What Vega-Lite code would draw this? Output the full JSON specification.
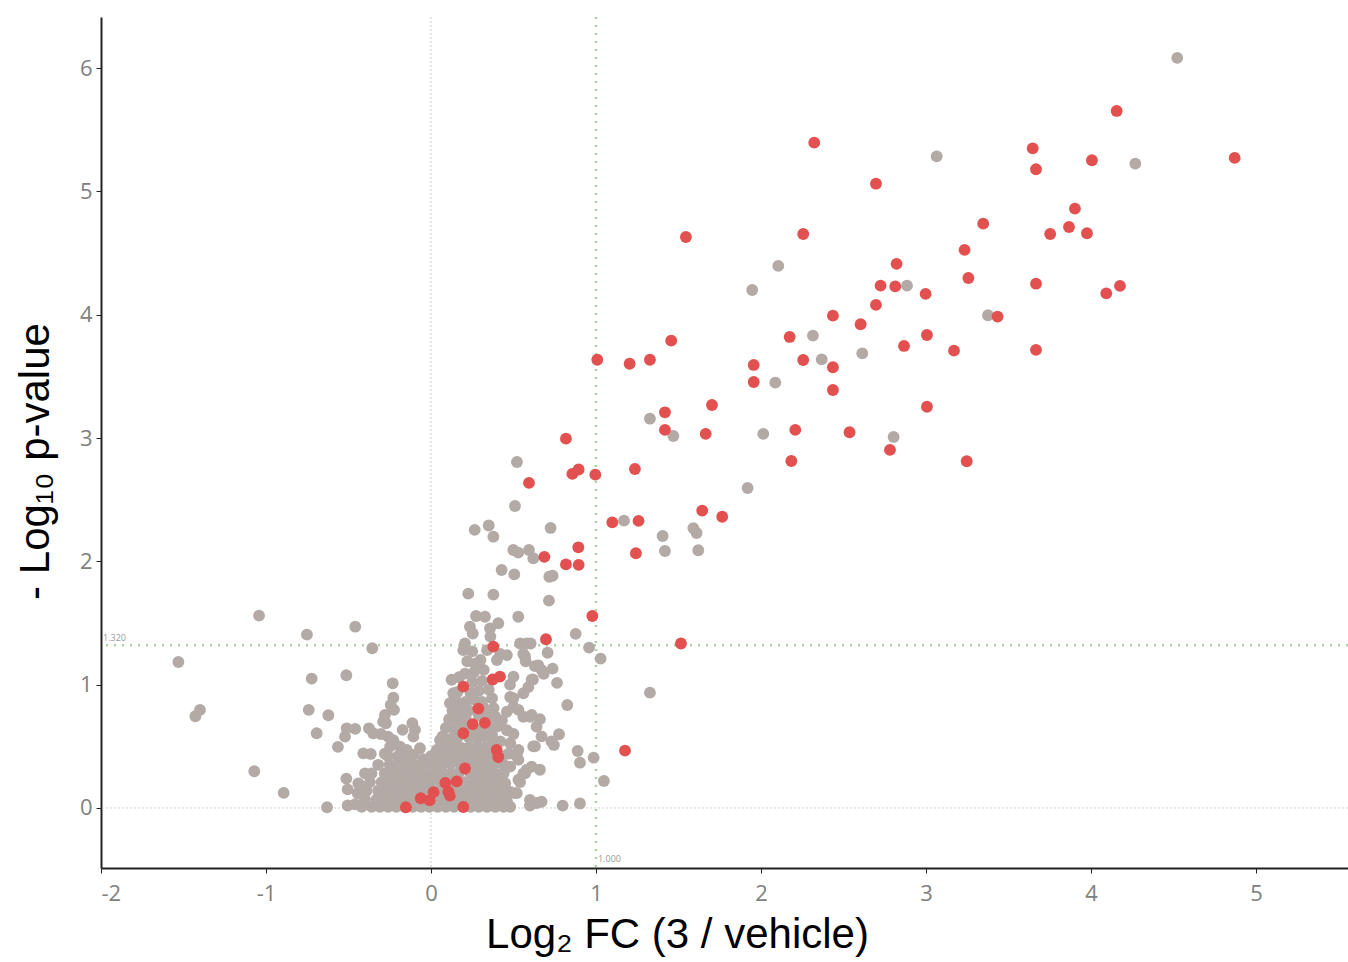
{
  "$schema": "https://vega.github.io/schema/vega-lite/v6.json",
  "width": 1247,
  "height": 851,
  "autosize": {"type": "none"},
  "padding": {"left": 101, "top": 17, "right": 0, "bottom": 94},
  "background": "white",
  "config": {"view": {"stroke": null}},
  "datasets": {
    "pts": [
      {"x":-0.42,"y":0.01,"g":"n"},{"x":-0.36,"y":0.01,"g":"n"},{"x":-0.31,"y":0.01,"g":"n"},{"x":-0.26,"y":0.01,"g":"n"},{"x":-0.21,"y":0.01,"g":"n"},{"x":-0.16,"y":0.01,"g":"n"},{"x":-0.11,"y":0.01,"g":"n"},{"x":-0.06,"y":0.01,"g":"n"},{"x":-0.01,"y":0.01,"g":"n"},{"x":0.04,"y":0.01,"g":"n"},{"x":0.09,"y":0.01,"g":"n"},{"x":0.14,"y":0.01,"g":"n"},{"x":0.19,"y":0.02,"g":"n"},{"x":0.24,"y":0.01,"g":"n"},{"x":0.29,"y":0.01,"g":"n"},{"x":0.34,"y":0.01,"g":"n"},{"x":0.39,"y":0.01,"g":"n"},{"x":0.44,"y":0.01,"g":"n"},{"x":0.48,"y":0.01,"g":"n"},
      {"x":-0.4,"y":0.07,"g":"n"},{"x":-0.33,"y":0.07,"g":"n"},{"x":-0.28,"y":0.07,"g":"n"},{"x":-0.23,"y":0.07,"g":"n"},{"x":-0.18,"y":0.07,"g":"n"},{"x":-0.13,"y":0.07,"g":"n"},{"x":-0.08,"y":0.07,"g":"n"},{"x":-0.03,"y":0.08,"g":"n"},{"x":0.02,"y":0.07,"g":"n"},{"x":0.07,"y":0.07,"g":"n"},{"x":0.12,"y":0.06,"g":"n"},{"x":0.17,"y":0.07,"g":"n"},{"x":0.22,"y":0.07,"g":"n"},{"x":0.27,"y":0.07,"g":"n"},{"x":0.32,"y":0.07,"g":"n"},{"x":0.37,"y":0.07,"g":"n"},{"x":0.42,"y":0.07,"g":"n"},{"x":0.46,"y":0.06,"g":"n"},
      {"x":-0.39,"y":0.14,"g":"n"},{"x":-0.32,"y":0.14,"g":"n"},{"x":-0.27,"y":0.14,"g":"n"},{"x":-0.22,"y":0.14,"g":"n"},{"x":-0.17,"y":0.14,"g":"n"},{"x":-0.12,"y":0.14,"g":"n"},{"x":-0.07,"y":0.14,"g":"n"},{"x":-0.02,"y":0.15,"g":"n"},{"x":0.05,"y":0.14,"g":"n"},{"x":0.09,"y":0.15,"g":"n"},{"x":0.13,"y":0.16,"g":"n"},{"x":0.18,"y":0.14,"g":"n"},{"x":0.23,"y":0.14,"g":"n"},{"x":0.28,"y":0.14,"g":"n"},{"x":0.33,"y":0.14,"g":"n"},{"x":0.38,"y":0.14,"g":"n"},{"x":0.43,"y":0.14,"g":"n"},{"x":0.48,"y":0.13,"g":"n"},
      {"x":-0.37,"y":0.21,"g":"n"},{"x":-0.3,"y":0.21,"g":"n"},{"x":-0.25,"y":0.21,"g":"n"},{"x":-0.2,"y":0.21,"g":"n"},{"x":-0.15,"y":0.21,"g":"n"},{"x":-0.1,"y":0.21,"g":"n"},{"x":-0.05,"y":0.21,"g":"n"},{"x":0.0,"y":0.21,"g":"n"},{"x":0.05,"y":0.22,"g":"n"},{"x":0.11,"y":0.24,"g":"n"},{"x":0.2,"y":0.21,"g":"n"},{"x":0.25,"y":0.21,"g":"n"},{"x":0.3,"y":0.21,"g":"n"},{"x":0.35,"y":0.21,"g":"n"},{"x":0.4,"y":0.21,"g":"n"},{"x":0.45,"y":0.2,"g":"n"},
      {"x":-0.36,"y":0.28,"g":"n"},{"x":-0.28,"y":0.28,"g":"n"},{"x":-0.23,"y":0.28,"g":"n"},{"x":-0.18,"y":0.28,"g":"n"},{"x":-0.13,"y":0.28,"g":"n"},{"x":-0.08,"y":0.28,"g":"n"},{"x":-0.03,"y":0.28,"g":"n"},{"x":0.02,"y":0.28,"g":"n"},{"x":0.07,"y":0.28,"g":"n"},{"x":0.12,"y":0.28,"g":"n"},{"x":0.17,"y":0.29,"g":"n"},{"x":0.24,"y":0.28,"g":"n"},{"x":0.29,"y":0.28,"g":"n"},{"x":0.34,"y":0.28,"g":"n"},{"x":0.39,"y":0.28,"g":"n"},{"x":0.44,"y":0.28,"g":"n"},
      {"x":-0.32,"y":0.35,"g":"n"},{"x":-0.25,"y":0.35,"g":"n"},{"x":-0.2,"y":0.35,"g":"n"},{"x":-0.15,"y":0.35,"g":"n"},{"x":-0.1,"y":0.35,"g":"n"},{"x":-0.04,"y":0.34,"g":"n"},{"x":0.02,"y":0.35,"g":"n"},{"x":0.07,"y":0.35,"g":"n"},{"x":0.12,"y":0.36,"g":"n"},{"x":0.17,"y":0.37,"g":"n"},{"x":0.23,"y":0.35,"g":"n"},{"x":0.28,"y":0.35,"g":"n"},{"x":0.33,"y":0.35,"g":"n"},{"x":0.38,"y":0.35,"g":"n"},{"x":0.44,"y":0.35,"g":"n"},
      {"x":-0.26,"y":0.42,"g":"n"},{"x":-0.2,"y":0.42,"g":"n"},{"x":-0.15,"y":0.41,"g":"n"},{"x":0.0,"y":0.42,"g":"n"},{"x":0.05,"y":0.42,"g":"n"},{"x":0.1,"y":0.42,"g":"n"},{"x":0.15,"y":0.43,"g":"n"},{"x":0.2,"y":0.42,"g":"n"},{"x":0.25,"y":0.42,"g":"n"},{"x":0.3,"y":0.42,"g":"n"},{"x":0.35,"y":0.42,"g":"n"},{"x":0.43,"y":0.42,"g":"n"},
      {"x":0.08,"y":0.49,"g":"n"},{"x":0.13,"y":0.5,"g":"n"},{"x":0.18,"y":0.49,"g":"n"},{"x":0.23,"y":0.49,"g":"n"},{"x":0.28,"y":0.5,"g":"n"},{"x":0.33,"y":0.49,"g":"n"},{"x":0.37,"y":0.52,"g":"n"},{"x":0.42,"y":0.54,"g":"n"},
      {"x":0.07,"y":0.58,"g":"n"},{"x":0.12,"y":0.56,"g":"n"},{"x":0.16,"y":0.57,"g":"n"},{"x":0.23,"y":0.57,"g":"n"},{"x":0.28,"y":0.56,"g":"n"},{"x":0.32,"y":0.58,"g":"n"},{"x":0.37,"y":0.59,"g":"n"},
      {"x":0.09,"y":0.65,"g":"n"},{"x":0.14,"y":0.64,"g":"n"},{"x":0.19,"y":0.66,"g":"n"},{"x":0.24,"y":0.63,"g":"n"},{"x":0.29,"y":0.63,"g":"n"},{"x":0.35,"y":0.65,"g":"n"},{"x":0.4,"y":0.66,"g":"n"},
      {"x":0.11,"y":0.72,"g":"n"},{"x":0.16,"y":0.72,"g":"n"},{"x":0.21,"y":0.73,"g":"n"},{"x":0.29,"y":0.75,"g":"n"},{"x":0.35,"y":0.73,"g":"n"},{"x":0.39,"y":0.74,"g":"n"},
      {"x":0.13,"y":0.79,"g":"n"},{"x":0.18,"y":0.8,"g":"n"},{"x":0.23,"y":0.79,"g":"n"},{"x":0.33,"y":0.8,"g":"n"},{"x":0.38,"y":0.81,"g":"n"},
      {"x":0.15,"y":0.87,"g":"n"},{"x":0.21,"y":0.86,"g":"n"},{"x":0.26,"y":0.88,"g":"n"},{"x":0.31,"y":0.86,"g":"n"},{"x":0.37,"y":0.89,"g":"n"},
      {"x":0.16,"y":0.94,"g":"n"},{"x":0.24,"y":0.93,"g":"n"},{"x":0.29,"y":0.95,"g":"n"},{"x":0.35,"y":0.96,"g":"n"},
      {"x":0.25,"y":1.02,"g":"n"},{"x":0.31,"y":1.03,"g":"n"},{"x":0.17,"y":1.06,"g":"n"},{"x":0.26,"y":1.1,"g":"n"},{"x":0.32,"y":1.12,"g":"n"},{"x":0.22,"y":1.19,"g":"n"},{"x":0.3,"y":1.2,"g":"n"},{"x":0.25,"y":1.27,"g":"n"},
      {"x":4.523,"y":6.083,"g":"n"},{"x":4.269,"y":5.226,"g":"n"},{"x":3.065,"y":5.285,"g":"n"},{"x":3.376,"y":3.996,"g":"n"},{"x":2.885,"y":4.236,"g":"n"},{"x":2.105,"y":4.396,"g":"n"},{"x":1.947,"y":4.201,"g":"n"},{"x":2.315,"y":3.831,"g":"n"},{"x":2.614,"y":3.687,"g":"n"},{"x":2.368,"y":3.638,"g":"n"},{"x":2.087,"y":3.45,"g":"n"},{"x":1.327,"y":3.157,"g":"n"},{"x":1.469,"y":3.017,"g":"n"},{"x":2.014,"y":3.034,"g":"n"},{"x":2.804,"y":3.009,"g":"n"},{"x":1.919,"y":2.595,"g":"n"},{"x":1.17,"y":2.33,"g":"n"},{"x":1.404,"y":2.206,"g":"n"},{"x":1.418,"y":2.084,"g":"n"},{"x":1.59,"y":2.27,"g":"n"},{"x":1.61,"y":2.23,"g":"n"},{"x":1.62,"y":2.09,"g":"n"},
      {"x":0.521,"y":2.806,"g":"n"},{"x":0.509,"y":2.449,"g":"n"},{"x":0.265,"y":2.255,"g":"n"},{"x":0.35,"y":2.291,"g":"n"},{"x":0.378,"y":2.2,"g":"n"},{"x":0.725,"y":2.271,"g":"n"},{"x":0.499,"y":2.092,"g":"n"},{"x":0.529,"y":2.071,"g":"n"},{"x":0.594,"y":2.092,"g":"n"},{"x":0.62,"y":2.025,"g":"n"},{"x":0.428,"y":1.93,"g":"n"},{"x":0.505,"y":1.894,"g":"n"},{"x":0.717,"y":1.875,"g":"n"},{"x":0.737,"y":1.883,"g":"n"},{"x":0.715,"y":1.681,"g":"n"},{"x":0.226,"y":1.738,"g":"n"},{"x":0.378,"y":1.73,"g":"n"},{"x":0.273,"y":1.557,"g":"n"},{"x":0.327,"y":1.551,"g":"n"},{"x":0.529,"y":1.551,"g":"n"},{"x":0.236,"y":1.47,"g":"n"},{"x":0.253,"y":1.415,"g":"n"},{"x":0.358,"y":1.457,"g":"n"},{"x":0.408,"y":1.498,"g":"n"},{"x":0.877,"y":1.412,"g":"n"},{"x":0.958,"y":1.3,"g":"n"},{"x":1.028,"y":1.211,"g":"n"},{"x":1.327,"y":0.935,"g":"n"},{"x":0.54,"y":1.334,"g":"n"},{"x":0.604,"y":1.334,"g":"n"},{"x":0.56,"y":1.249,"g":"n"},{"x":0.574,"y":1.19,"g":"n"},{"x":0.65,"y":1.157,"g":"n"},{"x":0.707,"y":1.259,"g":"n"},{"x":0.683,"y":1.087,"g":"n"},{"x":0.737,"y":1.13,"g":"n"},{"x":0.764,"y":1.014,"g":"n"},{"x":0.618,"y":1.042,"g":"n"},{"x":0.826,"y":0.835,"g":"n"},{"x":0.776,"y":0.598,"g":"n"},{"x":0.745,"y":0.511,"g":"n"},{"x":0.889,"y":0.462,"g":"n"},{"x":0.903,"y":0.367,"g":"n"},{"x":0.986,"y":0.408,"g":"n"},{"x":1.048,"y":0.219,"g":"n"},{"x":0.903,"y":0.036,"g":"n"},{"x":0.798,"y":0.019,"g":"n"},{"x":0.63,"y":1.15,"g":"n"},{"x":0.67,"y":1.12,"g":"n"},{"x":0.5,"y":1.065,"g":"n"},{"x":0.479,"y":1.0,"g":"n"},{"x":0.499,"y":0.89,"g":"n"},{"x":0.56,"y":0.93,"g":"n"},{"x":0.61,"y":1.04,"g":"n"},{"x":0.59,"y":0.98,"g":"n"},{"x":0.53,"y":0.795,"g":"n"},{"x":0.56,"y":0.74,"g":"n"},{"x":0.61,"y":0.755,"g":"n"},{"x":0.66,"y":0.72,"g":"n"},{"x":0.64,"y":0.66,"g":"n"},{"x":0.67,"y":0.58,"g":"n"},{"x":0.5,"y":0.6,"g":"n"},{"x":0.48,"y":0.525,"g":"n"},{"x":0.53,"y":0.47,"g":"n"},{"x":0.52,"y":0.42,"g":"n"},{"x":0.63,"y":0.5,"g":"n"},{"x":0.58,"y":0.31,"g":"n"},{"x":0.61,"y":0.335,"g":"n"},{"x":0.66,"y":0.31,"g":"n"},{"x":0.53,"y":0.23,"g":"n"},{"x":0.56,"y":0.28,"g":"n"},{"x":0.52,"y":0.12,"g":"n"},{"x":0.6,"y":0.02,"g":"n"},{"x":0.64,"y":0.04,"g":"n"},{"x":0.67,"y":0.05,"g":"n"},{"x":0.73,"y":0.54,"g":"n"},{"x":0.43,"y":0.71,"g":"n"},{"x":0.46,"y":0.63,"g":"n"},{"x":0.206,"y":1.09,"g":"n"},{"x":0.125,"y":1.04,"g":"n"},{"x":0.135,"y":0.93,"g":"n"},{"x":0.115,"y":0.85,"g":"n"},{"x":0.196,"y":1.28,"g":"n"},{"x":0.206,"y":1.335,"g":"n"},{"x":0.267,"y":1.17,"g":"n"},{"x":0.34,"y":1.28,"g":"n"},{"x":0.36,"y":1.39,"g":"n"},{"x":0.42,"y":1.25,"g":"n"},{"x":0.46,"y":1.24,"g":"n"},{"x":0.4,"y":1.2,"g":"n"},{"x":0.58,"y":1.334,"g":"n"},{"x":0.57,"y":1.23,"g":"n"},{"x":0.48,"y":0.9,"g":"n"},{"x":0.5,"y":0.82,"g":"n"},{"x":0.6,"y":0.74,"g":"n"},{"x":0.62,"y":0.5,"g":"n"},{"x":0.53,"y":0.39,"g":"n"},{"x":0.48,"y":0.335,"g":"n"},{"x":0.57,"y":0.28,"g":"n"},{"x":0.54,"y":0.21,"g":"n"},{"x":0.6,"y":0.065,"g":"n"},{"x":0.51,"y":0.12,"g":"n"},{"x":0.47,"y":0.44,"g":"n"},{"x":0.46,"y":0.78,"g":"n"},
      {"x":-1.042,"y":1.56,"g":"n"},{"x":-0.459,"y":1.47,"g":"n"},{"x":-0.752,"y":1.406,"g":"n"},{"x":-0.356,"y":1.295,"g":"n"},{"x":-1.531,"y":1.184,"g":"n"},{"x":-0.723,"y":1.049,"g":"n"},{"x":-0.513,"y":1.076,"g":"n"},{"x":-0.232,"y":1.011,"g":"n"},{"x":-1.428,"y":0.744,"g":"n"},{"x":-1.4,"y":0.795,"g":"n"},{"x":-0.741,"y":0.795,"g":"n"},{"x":-0.622,"y":0.752,"g":"n"},{"x":-0.693,"y":0.606,"g":"n"},{"x":-0.564,"y":0.495,"g":"n"},{"x":-1.071,"y":0.298,"g":"n"},{"x":-0.893,"y":0.122,"g":"n"},{"x":-0.63,"y":0.006,"g":"n"},{"x":-0.513,"y":0.238,"g":"n"},{"x":-0.505,"y":0.151,"g":"n"},{"x":-0.43,"y":0.173,"g":"n"},{"x":-0.444,"y":0.119,"g":"n"},{"x":-0.505,"y":0.02,"g":"n"},{"x":-0.46,"y":0.03,"g":"n"},{"x":-0.521,"y":0.578,"g":"n"},{"x":-0.511,"y":0.646,"g":"n"},{"x":-0.459,"y":0.641,"g":"n"},{"x":-0.41,"y":0.443,"g":"n"},{"x":-0.365,"y":0.438,"g":"n"},{"x":-0.376,"y":0.646,"g":"n"},{"x":-0.35,"y":0.606,"g":"n"},{"x":-0.303,"y":0.6,"g":"n"},{"x":-0.279,"y":0.754,"g":"n"},{"x":-0.273,"y":0.687,"g":"n"},{"x":-0.244,"y":0.835,"g":"n"},{"x":-0.228,"y":0.894,"g":"n"},{"x":-0.224,"y":0.795,"g":"n"},{"x":-0.172,"y":0.633,"g":"n"},{"x":-0.113,"y":0.687,"g":"n"},{"x":-0.097,"y":0.633,"g":"n"},{"x":-0.107,"y":0.578,"g":"n"},{"x":-0.047,"y":0.395,"g":"n"},{"x":-0.29,"y":0.7,"g":"n"},{"x":-0.26,"y":0.578,"g":"n"},{"x":-0.228,"y":0.55,"g":"n"},{"x":-0.248,"y":0.497,"g":"n"},{"x":-0.28,"y":0.44,"g":"n"},{"x":-0.188,"y":0.497,"g":"n"},{"x":-0.147,"y":0.47,"g":"n"},{"x":-0.107,"y":0.43,"g":"n"},{"x":-0.067,"y":0.484,"g":"n"},{"x":0.035,"y":0.47,"g":"n"},{"x":0.055,"y":0.55,"g":"n"},{"x":-0.44,"y":0.2,"g":"n"},{"x":-0.42,"y":0.146,"g":"n"},{"x":-0.4,"y":0.28,"g":"n"},
      {"x":4.156,"y":5.653,"g":"s"},{"x":3.647,"y":5.35,"g":"s"},{"x":3.667,"y":5.18,"g":"s"},{"x":4.006,"y":5.253,"g":"s"},{"x":4.871,"y":5.272,"g":"s"},{"x":3.903,"y":4.861,"g":"s"},{"x":3.347,"y":4.739,"g":"s"},{"x":3.753,"y":4.655,"g":"s"},{"x":3.867,"y":4.712,"g":"s"},{"x":3.976,"y":4.661,"g":"s"},{"x":3.234,"y":4.526,"g":"s"},{"x":3.257,"y":4.298,"g":"s"},{"x":3.667,"y":4.252,"g":"s"},{"x":4.093,"y":4.174,"g":"s"},{"x":4.176,"y":4.234,"g":"s"},{"x":3.434,"y":3.985,"g":"s"},{"x":3.17,"y":3.709,"g":"s"},{"x":3.667,"y":3.715,"g":"s"},{"x":3.247,"y":2.812,"g":"s"},
      {"x":2.323,"y":5.396,"g":"s"},{"x":2.697,"y":5.063,"g":"s"},{"x":2.256,"y":4.655,"g":"s"},{"x":1.545,"y":4.631,"g":"s"},{"x":2.822,"y":4.413,"g":"s"},{"x":2.725,"y":4.236,"g":"s"},{"x":2.814,"y":4.23,"g":"s"},{"x":2.998,"y":4.169,"g":"s"},{"x":2.697,"y":4.08,"g":"s"},{"x":2.436,"y":3.993,"g":"s"},{"x":2.604,"y":3.923,"g":"s"},{"x":2.174,"y":3.82,"g":"s"},{"x":3.006,"y":3.836,"g":"s"},{"x":2.867,"y":3.747,"g":"s"},{"x":2.256,"y":3.633,"g":"s"},{"x":2.436,"y":3.574,"g":"s"},{"x":1.956,"y":3.593,"g":"s"},{"x":1.956,"y":3.455,"g":"s"},{"x":2.436,"y":3.39,"g":"s"},{"x":1.008,"y":3.635,"g":"s"},{"x":1.204,"y":3.603,"g":"s"},{"x":1.327,"y":3.635,"g":"s"},{"x":1.456,"y":3.79,"g":"s"},{"x":1.703,"y":3.268,"g":"s"},{"x":1.418,"y":3.209,"g":"s"},{"x":1.418,"y":3.066,"g":"s"},{"x":1.665,"y":3.034,"g":"s"},{"x":2.208,"y":3.066,"g":"s"},{"x":2.537,"y":3.047,"g":"s"},{"x":3.006,"y":3.254,"g":"s"},{"x":2.782,"y":2.904,"g":"s"},{"x":2.184,"y":2.814,"g":"s"},{"x":0.818,"y":2.995,"g":"s"},{"x":0.857,"y":2.709,"g":"s"},{"x":0.895,"y":2.745,"g":"s"},{"x":0.996,"y":2.703,"g":"s"},{"x":1.236,"y":2.749,"g":"s"},{"x":1.644,"y":2.411,"g":"s"},{"x":1.765,"y":2.362,"g":"s"},{"x":1.099,"y":2.316,"g":"s"},{"x":1.258,"y":2.328,"g":"s"},{"x":0.594,"y":2.636,"g":"s"},{"x":0.687,"y":2.036,"g":"s"},{"x":0.818,"y":1.975,"g":"s"},{"x":0.895,"y":1.971,"g":"s"},{"x":0.893,"y":2.114,"g":"s"},{"x":1.242,"y":2.066,"g":"s"},{"x":0.697,"y":1.368,"g":"s"},{"x":0.978,"y":1.557,"g":"s"},{"x":1.515,"y":1.334,"g":"s"},{"x":1.176,"y":0.465,"g":"s"},
      {"x":0.378,"y":1.308,"g":"s"},{"x":0.374,"y":1.042,"g":"s"},{"x":0.418,"y":1.065,"g":"s"},{"x":0.196,"y":0.984,"g":"s"},{"x":0.287,"y":0.806,"g":"s"},{"x":0.253,"y":0.68,"g":"s"},{"x":0.327,"y":0.69,"g":"s"},{"x":0.196,"y":0.606,"g":"s"},{"x":0.398,"y":0.47,"g":"s"},{"x":0.408,"y":0.413,"g":"s"},{"x":0.206,"y":0.32,"g":"s"},{"x":0.156,"y":0.216,"g":"s"},{"x":0.087,"y":0.203,"g":"s"},{"x":0.105,"y":0.132,"g":"s"},{"x":0.115,"y":0.1,"g":"s"},{"x":0.016,"y":0.128,"g":"s"},{"x":-0.062,"y":0.079,"g":"s"},{"x":-0.008,"y":0.062,"g":"s"},{"x":-0.152,"y":0.006,"g":"s"},{"x":0.196,"y":0.008,"g":"s"}
    ],
    "labels": [
      {"x": -2, "y": 1.32, "t": "1.320"},
      {"x": 1, "y": -0.47, "t": "1.000"}
    ]
  },
  "layer": [
    {
      "data": {"values": [{"v": 0}]},
      "mark": {"type": "rule", "color": "#c8c8c8", "strokeDash": [2, 2], "strokeWidth": 1},
      "encoding": {"x": {"field": "v", "type": "quantitative", "scale": {"domain": [-2, 5.558], "nice": false, "zero": false}}}
    },
    {
      "data": {"values": [{"v": 0}]},
      "mark": {"type": "rule", "color": "#d0d0d0", "strokeDash": [2, 2], "strokeWidth": 1},
      "encoding": {"y": {"field": "v", "type": "quantitative", "scale": {"domain": [-0.487, 6.415], "nice": false, "zero": false}}}
    },
    {
      "data": {"values": [{"v": 1}]},
      "mark": {"type": "rule", "color": "#a9d6a0", "strokeDash": [2, 6], "strokeWidth": 2.5},
      "encoding": {"x": {"field": "v", "type": "quantitative"}}
    },
    {
      "data": {"values": [{"v": 1.32}]},
      "mark": {"type": "rule", "color": "#a9d6a0", "strokeDash": [2, 6], "strokeWidth": 2.5},
      "encoding": {"y": {"field": "v", "type": "quantitative"}}
    },
    {
      "data": {"name": "pts"},
      "mark": {"type": "circle", "size": 140, "opacity": 1},
      "encoding": {
        "x": {
          "field": "x", "type": "quantitative",
          "scale": {"domain": [-2, 5.558], "nice": false, "zero": false},
          "axis": {
            "values": [-2, -1, 0, 1, 2, 3, 4, 5],
            "labelExpr": "'' + datum.value",
            "grid": false,
            "domainColor": "#222222", "domainWidth": 2,
            "tickColor": "#222222", "tickSize": 5, "tickWidth": 1,
            "labelColor": "#808080", "labelFontSize": 22, "labelFont": "Open Sans", "labelPadding": 10,
            "title": "Log₂ FC (3 / vehicle)",
            "titleFont": "Liberation Sans", "titleFontSize": 42, "titleFontWeight": "normal", "titleColor": "#000000",
            "titlePadding": 10,
            "titleX": 576
          }
        },
        "y": {
          "field": "y", "type": "quantitative",
          "scale": {"domain": [-0.487, 6.415], "nice": false, "zero": false},
          "axis": {
            "values": [0, 1, 2, 3, 4, 5, 6],
            "labelExpr": "'' + datum.value",
            "grid": false,
            "domainColor": "#222222", "domainWidth": 2,
            "tickColor": "#222222", "tickSize": 5, "tickWidth": 1,
            "labelColor": "#808080", "labelFontSize": 22, "labelFont": "Open Sans", "labelPadding": 4,
            "title": "- Log₁₀ p-value",
            "titleFont": "Liberation Sans", "titleFontSize": 42, "titleFontWeight": "normal", "titleColor": "#000000",
            "titlePadding": 22,
            "titleY": 444
          }
        },
        "color": {
          "field": "g", "type": "nominal",
          "scale": {"domain": ["n", "s"], "range": ["#b3aaa6", "#e2504f"]},
          "legend": null
        }
      }
    },
    {
      "data": {"name": "labels"},
      "mark": {"type": "text", "align": "left", "baseline": "bottom", "dx": 2, "dy": -2, "fontSize": 9, "color": "#999999", "font": "Open Sans"},
      "encoding": {
        "x": {"field": "x", "type": "quantitative"},
        "y": {"field": "y", "type": "quantitative"},
        "text": {"field": "t"}
      }
    }
  ]
}
